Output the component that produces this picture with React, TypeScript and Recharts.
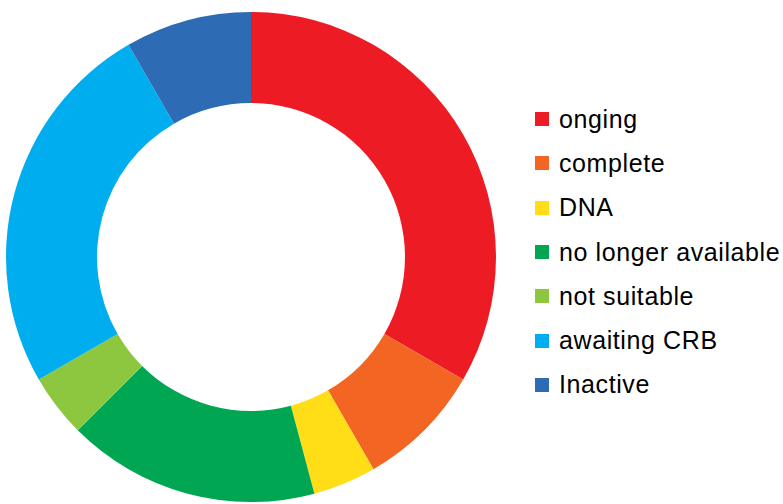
import React from "react";
import { PieChart, Pie, Cell, Legend } from "recharts";

const categories = ["onging", "complete", "DNA", "no longer available", "not suitable", "awaiting CRB", "Inactive"];
const counts = [8, 2, 1, 4, 1, 6, 2];
const colors = ["#ED1C24", "#F26522", "#FFDE17", "#00A651", "#8DC63F", "#00AEEF", "#2E6BB5"];

const data = categories.map((name, i) => ({ name, value: counts[i] }));

const renderLegend = () => (
  <div style={{ position: "absolute", left: 535, top: 97 }}>
    {categories.map((c, i) => (
      <div
        key={c}
        style={{
          display: "flex",
          alignItems: "center",
          height: 44.3,
          fontFamily: "'Liberation Sans', Arial, sans-serif",
          fontSize: 25,
          letterSpacing: 0.6,
          color: "#000",
          whiteSpace: "nowrap",
        }}
      >
        <div style={{ width: 14, height: 14, background: colors[i], marginRight: 10 }} />
        <span>{c}</span>
      </div>
    ))}
  </div>
);

export default function App() {
  return (
    <div style={{ position: "absolute", left: 0, top: 0, width: 783, height: 504, background: "#fff" }}>
      <PieChart width={783} height={504} margin={{ top: 0, right: 0, bottom: 0, left: 0 }}>
        <Pie
          data={data}
          dataKey="value"
          nameKey="name"
          cx={251}
          cy={257}
          innerRadius={154}
          outerRadius={245}
          startAngle={90}
          endAngle={-270}
          stroke="none"
          isAnimationActive={false}
        >
          {data.map((d, i) => (
            <Cell key={d.name} fill={colors[i]} />
          ))}
        </Pie>
        <Legend content={renderLegend} wrapperStyle={{ position: "absolute", left: 0, top: 0, width: 0, height: 0 }} />
      </PieChart>
    </div>
  );
}
